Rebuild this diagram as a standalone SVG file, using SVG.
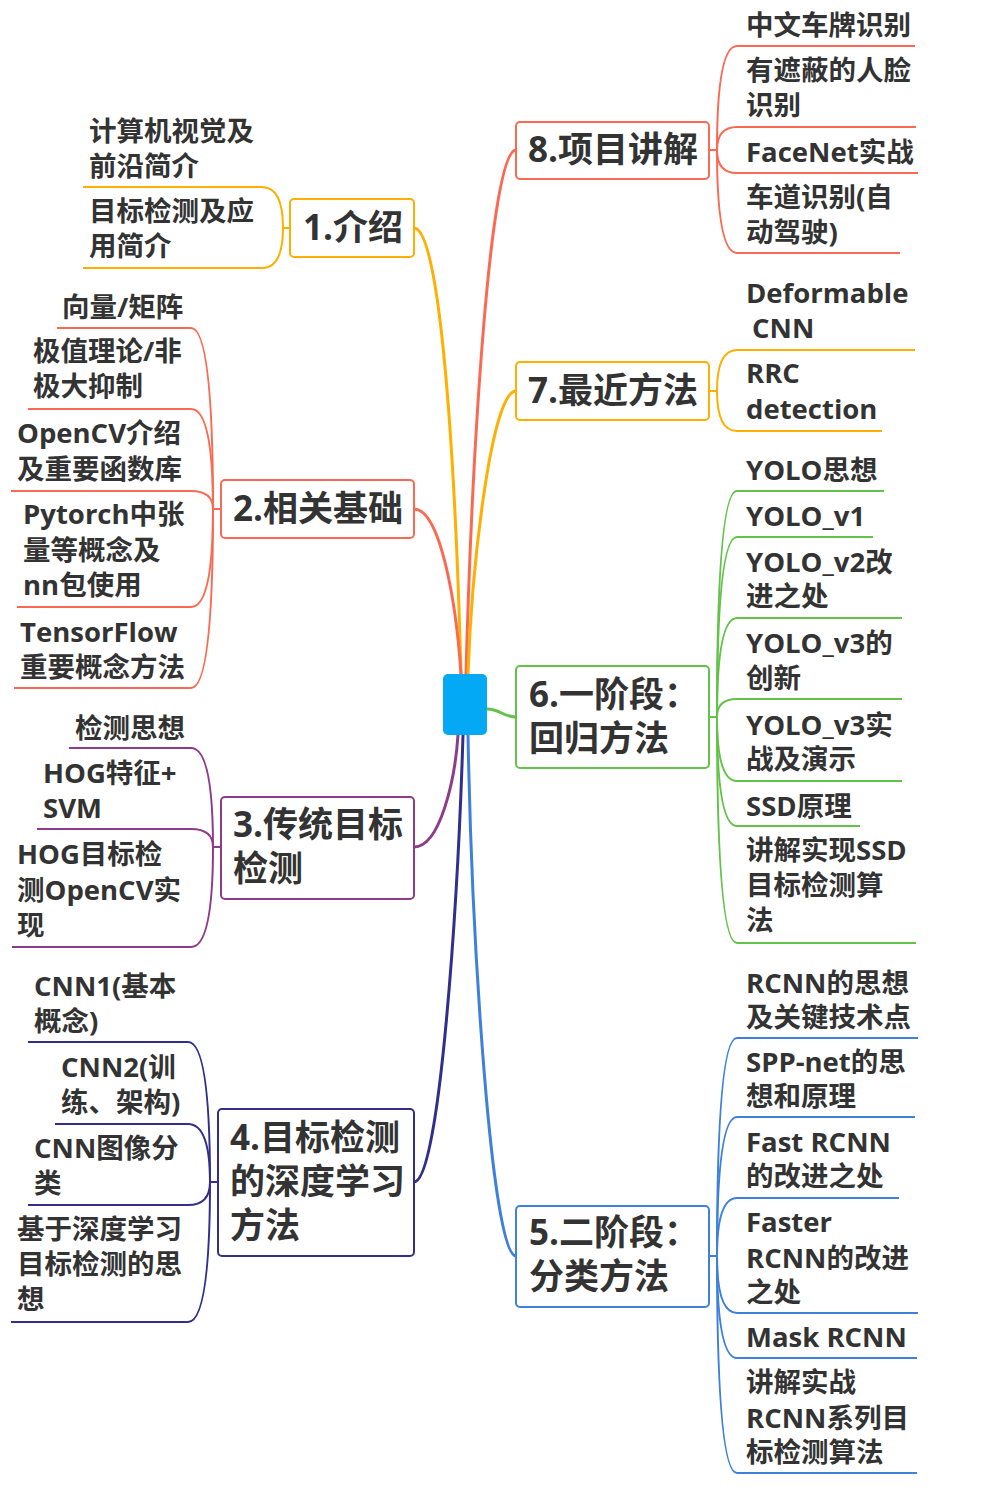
<svg xmlns="http://www.w3.org/2000/svg" width="1000" height="1496" viewBox="0 0 1000 1496">
<style>
text{font-family:"Open Sans","Noto Sans CJK SC",sans-serif;font-weight:bold;fill:#333333}
.t{font-size:27.5px}
.m{font-size:35px}
.box{fill:#ffffff;stroke-width:2}
.main{fill:none;stroke-width:3;stroke-linecap:round}
.sub{fill:none;stroke-width:2}
.amber{stroke:#FFAF00}
.coral{stroke:#FA6A52}
.purple{stroke:#8E3C8A}
.indigo{stroke:#312E8E}
.blue{stroke:#3E80DB}
.green{stroke:#62C24A}
</style>
<rect width="1000" height="1496" fill="#ffffff"/>
<g id="connectors">
  <path class="main amber" d="M414 228 C440 228 455 450 461 674"/>
  <path class="main coral" d="M414 509 C440 509 456 600 461 674"/>
  <path class="main coral" d="M516 150 C490 150 472 450 466 674"/>
  <path class="main amber" d="M516 391 C492 391 472 560 468 674"/>
  <path class="main green" d="M487 709 C500 709 503 717 516 717"/>
  <path class="main purple" d="M414 847 C440 847 455 780 458 735"/>
  <path class="main indigo" d="M414 1182 C440 1182 458 900 463 735"/>
  <path class="main blue" d="M516 1256 C492 1256 472 950 468 735"/>
  <path class="sub amber" d="M283 228 L290 228"/>
  <path class="sub amber" d="M283 228 Q283 187 262 187 L83 187"/>
  <path class="sub amber" d="M283 228 Q283 268 262 268 L83 268"/>
  <path class="sub coral" d="M213 509 L221 509"/>
  <path class="sub coral" d="M213 509 Q213 328 191 328 L57 328"/>
  <path class="sub coral" d="M213 509 Q213 409 191 409 L28 409"/>
  <path class="sub coral" d="M213 509 Q213 491 191 491 L11 491"/>
  <path class="sub coral" d="M213 509 Q213 607 191 607 L17 607"/>
  <path class="sub coral" d="M213 509 Q213 688 191 688 L14 688"/>
  <path class="sub purple" d="M213 847 L221 847"/>
  <path class="sub purple" d="M213 847 Q213 748 191 748 L69 748"/>
  <path class="sub purple" d="M213 847 Q213 829 191 829 L37 829"/>
  <path class="sub purple" d="M213 847 Q213 947 191 947 L12 947"/>
  <path class="sub indigo" d="M210 1182 L218 1182"/>
  <path class="sub indigo" d="M210 1182 Q210 1042 188 1042 L28 1042"/>
  <path class="sub indigo" d="M210 1182 Q210 1124 188 1124 L55 1124"/>
  <path class="sub indigo" d="M210 1182 Q210 1205 188 1205 L28 1205"/>
  <path class="sub indigo" d="M210 1182 Q210 1322 188 1322 L11 1322"/>
  <path class="sub coral" d="M709 150 L717 150"/>
  <path class="sub coral" d="M717 150 Q717 46 737 46 L915 46"/>
  <path class="sub coral" d="M717 150 Q717 127 737 127 L916 127"/>
  <path class="sub coral" d="M717 150 Q717 173 737 173 L918 173"/>
  <path class="sub coral" d="M717 150 Q717 253 737 253 L900 253"/>
  <path class="sub amber" d="M709 391 L717 391"/>
  <path class="sub amber" d="M717 391 Q717 350 737 350 L915 350"/>
  <path class="sub amber" d="M717 391 Q717 431 737 431 L882 431"/>
  <path class="sub green" d="M709 717 L717 717"/>
  <path class="sub green" d="M717 717 Q717 491 737 491 L884 491"/>
  <path class="sub green" d="M717 717 Q717 537 737 537 L873 537"/>
  <path class="sub green" d="M717 717 Q717 618 737 618 L902 618"/>
  <path class="sub green" d="M717 717 Q717 699 737 699 L902 699"/>
  <path class="sub green" d="M717 717 Q717 781 737 781 L902 781"/>
  <path class="sub green" d="M717 717 Q717 826 737 826 L860 826"/>
  <path class="sub green" d="M717 717 Q717 943 737 943 L916 943"/>
  <path class="sub blue" d="M709 1256 L717 1256"/>
  <path class="sub blue" d="M717 1256 Q717 1038 737 1038 L918 1038"/>
  <path class="sub blue" d="M717 1256 Q717 1117 737 1117 L915 1117"/>
  <path class="sub blue" d="M717 1256 Q717 1198 737 1198 L899 1198"/>
  <path class="sub blue" d="M717 1256 Q717 1313 737 1313 L918 1313"/>
  <path class="sub blue" d="M717 1256 Q717 1358 737 1358 L917 1358"/>
  <path class="sub blue" d="M717 1256 Q717 1473 737 1473 L917 1473"/>
</g>
<g id="center"><rect x="443" y="674" width="44" height="61" rx="5" fill="#03A9F4"/></g>
<g id="n1"><rect class="box amber" x="290" y="199" width="124" height="58" rx="4"/><text class="m" x="303" y="240">1.介绍</text></g>
<g id="n2"><rect class="box coral" x="221" y="480" width="193" height="58" rx="4"/><text class="m" x="233" y="521">2.相关基础</text></g>
<g id="n3"><rect class="box purple" x="221" y="797" width="193" height="102" rx="4"/><text class="m" x="233" y="837">3.传统目标</text><text class="m" x="233" y="881">检测</text></g>
<g id="n4"><rect class="box indigo" x="218" y="1109" width="196" height="147" rx="4"/><text class="m" x="230" y="1150">4.目标检测</text><text class="m" x="230" y="1194">的深度学习</text><text class="m" x="230" y="1238">方法</text></g>
<g id="n8"><rect class="box coral" x="516" y="122" width="193" height="57" rx="4"/><text class="m" x="528" y="162">8.项目讲解</text></g>
<g id="n7"><rect class="box amber" x="516" y="362" width="193" height="58" rx="4"/><text class="m" x="528" y="403">7.最近方法</text></g>
<g id="n6"><rect class="box green" x="516" y="666" width="193" height="102" rx="4"/><text class="m" x="529" y="707">6.一阶段：</text><text class="m" x="529" y="751">回归方法</text></g>
<g id="n5"><rect class="box blue" x="516" y="1206" width="193" height="101" rx="4"/><text class="m" x="529" y="1245">5.二阶段：</text><text class="m" x="529" y="1289">分类方法</text></g>
<g id="n1a"><text class="t" x="89" y="141">计算机视觉及</text><text class="t" x="89" y="176">前沿简介</text></g>
<g id="n1b"><text class="t" x="89" y="221">目标检测及应</text><text class="t" x="89" y="256">用简介</text></g>
<g id="n2a"><text class="t" x="62" y="317">向量/矩阵</text></g>
<g id="n2b"><text class="t" x="33" y="361">极值理论/非</text><text class="t" x="33" y="396">极大抑制</text></g>
<g id="n2c"><text class="t" x="17" y="443">OpenCV介绍</text><text class="t" x="17" y="479">及重要函数库</text></g>
<g id="n2d"><text class="t" x="23" y="524">Pytorch中张</text><text class="t" x="23" y="560">量等概念及</text><text class="t" x="23" y="595">nn包使用</text></g>
<g id="n2e"><text class="t" x="20" y="642">TensorFlow</text><text class="t" x="20" y="677">重要概念方法</text></g>
<g id="n3a"><text class="t" x="75" y="738">检测思想</text></g>
<g id="n3b"><text class="t" x="43" y="783">HOG特征+</text><text class="t" x="43" y="818">SVM</text></g>
<g id="n3c"><text class="t" x="17" y="864">HOG目标检</text><text class="t" x="17" y="900">测OpenCV实</text><text class="t" x="17" y="935">现</text></g>
<g id="n4a"><text class="t" x="34" y="996">CNN1(基本</text><text class="t" x="34" y="1031">概念)</text></g>
<g id="n4b"><text class="t" x="61" y="1077">CNN2(训</text><text class="t" x="61" y="1112">练、架构)</text></g>
<g id="n4c"><text class="t" x="34" y="1158">CNN图像分</text><text class="t" x="34" y="1193">类</text></g>
<g id="n4d"><text class="t" x="17" y="1239">基于深度学习</text><text class="t" x="17" y="1274">目标检测的思</text><text class="t" x="17" y="1309">想</text></g>
<g id="n8a"><text class="t" x="746" y="35">中文车牌识别</text></g>
<g id="n8b"><text class="t" x="746" y="80">有遮蔽的人脸</text><text class="t" x="746" y="115">识别</text></g>
<g id="n8c"><text class="t" x="746" y="162">FaceNet实战</text></g>
<g id="n8d"><text class="t" x="746" y="207">车道识别(自</text><text class="t" x="746" y="242">动驾驶)</text></g>
<g id="n7a"><text class="t" x="746" y="303">Deformable</text><text class="t" x="752" y="338">CNN</text></g>
<g id="n7b"><text class="t" x="746" y="383">RRC</text><text class="t" x="746" y="419">detection</text></g>
<g id="n6a"><text class="t" x="746" y="480">YOLO思想</text></g>
<g id="n6b"><text class="t" x="746" y="526">YOLO_v1</text></g>
<g id="n6c"><text class="t" x="746" y="572">YOLO_v2改</text><text class="t" x="746" y="606">进之处</text></g>
<g id="n6d"><text class="t" x="746" y="653">YOLO_v3的</text><text class="t" x="746" y="688">创新</text></g>
<g id="n6e"><text class="t" x="746" y="735">YOLO_v3实</text><text class="t" x="746" y="769">战及演示</text></g>
<g id="n6f"><text class="t" x="746" y="816">SSD原理</text></g>
<g id="n6g"><text class="t" x="746" y="860">讲解实现SSD</text><text class="t" x="746" y="895">目标检测算</text><text class="t" x="746" y="930">法</text></g>
<g id="n5a"><text class="t" x="746" y="993">RCNN的思想</text><text class="t" x="746" y="1027">及关键技术点</text></g>
<g id="n5b"><text class="t" x="746" y="1072">SPP-net的思</text><text class="t" x="746" y="1106">想和原理</text></g>
<g id="n5c"><text class="t" x="746" y="1152">Fast RCNN</text><text class="t" x="746" y="1186">的改进之处</text></g>
<g id="n5d"><text class="t" x="746" y="1232">Faster</text><text class="t" x="746" y="1268">RCNN的改进</text><text class="t" x="746" y="1302">之处</text></g>
<g id="n5e"><text class="t" x="746" y="1347">Mask RCNN</text></g>
<g id="n5f"><text class="t" x="746" y="1392">讲解实战</text><text class="t" x="746" y="1428">RCNN系列目</text><text class="t" x="746" y="1462">标检测算法</text></g>
</svg>
